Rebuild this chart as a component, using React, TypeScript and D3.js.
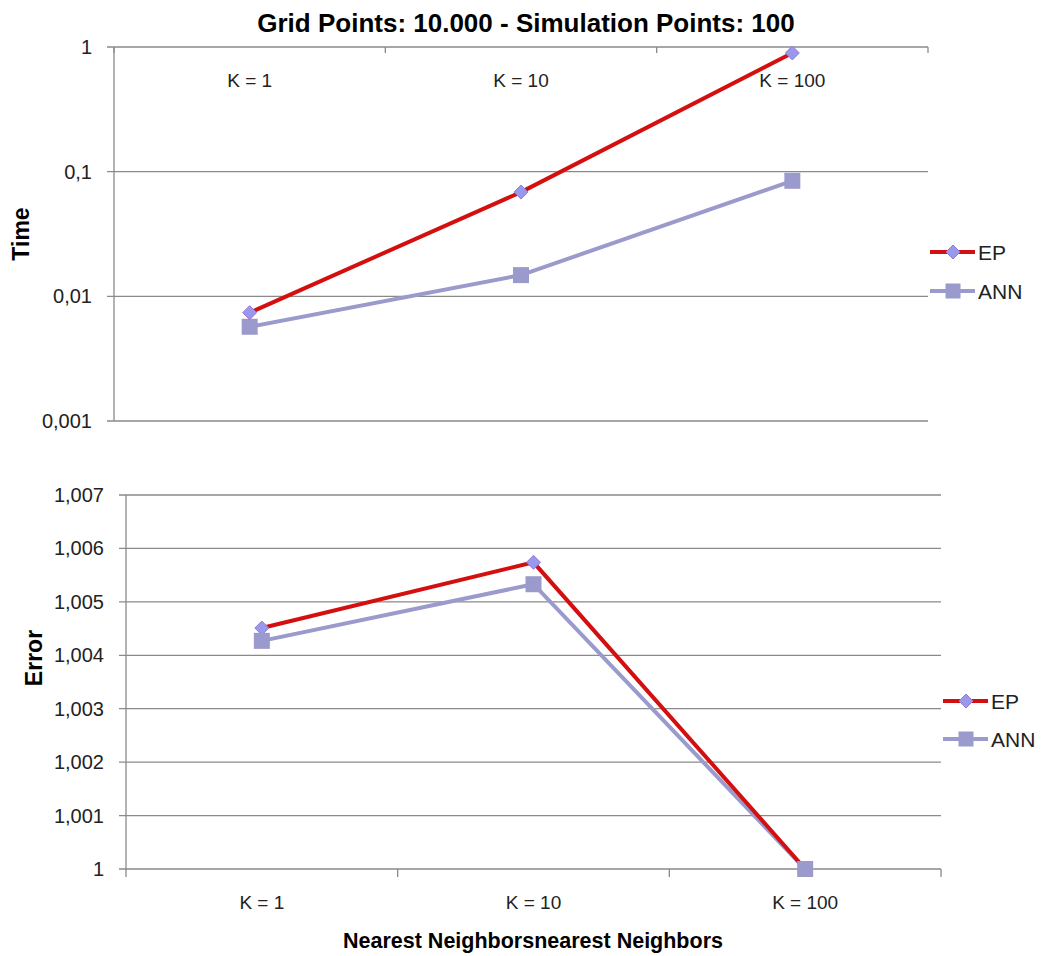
import React from "react";
import * as d3 from "d3";

// Categories (number of nearest neighbours)
const categories = ["K = 1", "K = 10", "K = 100"];

// Time (log scale) per method
const timeEP = [0.0074, 0.0686, 0.895];
const timeANN = [0.0057, 0.0148, 0.0845];

// Error per method
const errorEP = [1.00451, 1.00574, 1.0];
const errorANN = [1.00427, 1.00533, 1.0];

// Axis ticks
const timeTicks = [1, 0.1, 0.01, 0.001];
const timeTickLabels = ["1", "0,1", "0,01", "0,001"];
const errorTicks = [1, 1.001, 1.002, 1.003, 1.004, 1.005, 1.006, 1.007];
const errorTickLabels = ["1", "1,001", "1,002", "1,003", "1,004", "1,005", "1,006", "1,007"];

const seriesNames = ["EP", "ANN"];

const EP_LINE = "#d40f0f";
const ANN_LINE = "#9a9acc";
const MARKER_FILL = "#9898ec";
const GRID = "#8a8a8a";
const TEXT = "#222";
const FONT = "'Liberation Sans', Arial, sans-serif";

function Diamond({ x, y, r = 7 }: { x: number; y: number; r?: number }) {
  return (
    <path
      d={`M${x},${y - r}L${x + r},${y}L${x},${y + r}L${x - r},${y}Z`}
      fill={MARKER_FILL}
      stroke="#9a78cc"
      strokeWidth={1}
    />
  );
}

function Square({ x, y, s = 16 }: { x: number; y: number; s?: number }) {
  return <rect x={x - s / 2} y={y - s / 2} width={s} height={s} fill={ANN_LINE} />;
}

function Legend({ x, y1, y2 }: { x: number; y1: number; y2: number }) {
  return (
    <g fontFamily={FONT} fontSize={21} fill={TEXT}>
      <line x1={x} x2={x + 45} y1={y1} y2={y1} stroke={EP_LINE} strokeWidth={4} />
      <Diamond x={x + 23} y={y1} r={7} />
      <text x={x + 48} y={y1 + 8}>{seriesNames[0]}</text>
      <line x1={x} x2={x + 45} y1={y2} y2={y2} stroke={ANN_LINE} strokeWidth={4} />
      <Square x={x + 23} y={y2} s={15} />
      <text x={x + 48} y={y2 + 8}>{seriesNames[1]}</text>
    </g>
  );
}

export default function App() {
  // ---- Top panel: time on a log axis, category axis along the top edge
  const xTop = d3.scaleBand<string>().domain(categories).range([114, 928]);
  const yTop = d3.scaleLog().domain([0.001, 1]).range([421, 47]);
  const cxTop = (c: string) => (xTop(c) as number) + xTop.bandwidth() / 2;

  const lineTop = (vals: number[]) =>
    d3
      .line<number>()
      .x((_, i) => cxTop(categories[i]))
      .y((v) => yTop(v))(vals) as string;

  // ---- Bottom panel: error on a linear axis
  const xBot = d3.scaleBand<string>().domain(categories).range([126, 941]);
  const yBot = d3.scaleLinear().domain([1, 1.007]).range([869, 495]);
  const cxBot = (c: string) => (xBot(c) as number) + xBot.bandwidth() / 2;

  const lineBot = (vals: number[]) =>
    d3
      .line<number>()
      .x((_, i) => cxBot(categories[i]))
      .y((v) => yBot(v))(vals) as string;

  const topBounds = [...categories.map((c) => xTop(c) as number), 928];
  const botBounds = [...categories.map((c) => xBot(c) as number), 941];

  return (
    <div style={{ position: "absolute", left: 0, top: 0 }}>
      <svg width={1042} height={956} style={{ display: "block", background: "#fff" }}>
        {/* Title */}
        <text
          x={526}
          y={32}
          textAnchor="middle"
          fontFamily={FONT}
          fontWeight="bold"
          fontSize={26}
          fill="#000"
        >
          Grid Points: 10.000 - Simulation Points: 100
        </text>

        {/* ===== Top panel ===== */}
        <g>
          {timeTicks.map((t, i) => (
            <g key={"tg" + i}>
              <line
                x1={107}
                x2={928}
                y1={yTop(t)}
                y2={yTop(t)}
                stroke={GRID}
                strokeWidth={1.3}
              />
              <text
                x={92}
                y={yTop(t) + 7}
                textAnchor="end"
                fontFamily={FONT}
                fontSize={20}
                fill={TEXT}
              >
                {timeTickLabels[i]}
              </text>
            </g>
          ))}
          <line x1={114} x2={114} y1={47} y2={421} stroke={GRID} strokeWidth={1.3} />
          {topBounds.map((b, i) => (
            <line key={"tt" + i} x1={b} x2={b} y1={47} y2={53} stroke={GRID} strokeWidth={1.3} />
          ))}
          {categories.map((c) => (
            <text
              key={"tc" + c}
              x={cxTop(c)}
              y={87}
              textAnchor="middle"
              fontFamily={FONT}
              fontSize={19}
              fill={TEXT}
            >
              {c}
            </text>
          ))}
          <path d={lineTop(timeANN)} fill="none" stroke={ANN_LINE} strokeWidth={4} />
          <path d={lineTop(timeEP)} fill="none" stroke={EP_LINE} strokeWidth={4} />
          {timeANN.map((v, i) => (
            <Square key={"ta" + i} x={cxTop(categories[i])} y={yTop(v)} s={16} />
          ))}
          {timeEP.map((v, i) => (
            <Diamond key={"te" + i} x={cxTop(categories[i])} y={yTop(v)} r={7} />
          ))}
          <text
            transform="translate(29,234) rotate(-90)"
            textAnchor="middle"
            fontFamily={FONT}
            fontWeight="bold"
            fontSize={23}
            fill="#000"
          >
            Time
          </text>
          <Legend x={930} y1={252} y2={291} />
        </g>

        {/* ===== Bottom panel ===== */}
        <g>
          {errorTicks.map((t, i) => (
            <g key={"bg" + i}>
              <line
                x1={119}
                x2={941}
                y1={yBot(t)}
                y2={yBot(t)}
                stroke={GRID}
                strokeWidth={1.3}
              />
              <text
                x={104}
                y={yBot(t) + 7}
                textAnchor="end"
                fontFamily={FONT}
                fontSize={20}
                fill={TEXT}
              >
                {errorTickLabels[i]}
              </text>
            </g>
          ))}
          <line x1={126} x2={126} y1={495} y2={869} stroke={GRID} strokeWidth={1.3} />
          {botBounds.map((b, i) => (
            <line key={"bt" + i} x1={b} x2={b} y1={869} y2={877} stroke={GRID} strokeWidth={1.3} />
          ))}
          {categories.map((c) => (
            <text
              key={"bc" + c}
              x={cxBot(c)}
              y={909}
              textAnchor="middle"
              fontFamily={FONT}
              fontSize={19}
              fill={TEXT}
            >
              {c}
            </text>
          ))}
          <path d={lineBot(errorANN)} fill="none" stroke={ANN_LINE} strokeWidth={4} />
          <path d={lineBot(errorEP)} fill="none" stroke={EP_LINE} strokeWidth={4} />
          {errorEP.map((v, i) => (
            <Diamond key={"be" + i} x={cxBot(categories[i])} y={yBot(v)} r={7} />
          ))}
          {errorANN.map((v, i) => (
            <Square key={"ba" + i} x={cxBot(categories[i])} y={yBot(v)} s={16} />
          ))}
          <text
            transform="translate(42,658) rotate(-90)"
            textAnchor="middle"
            fontFamily={FONT}
            fontWeight="bold"
            fontSize={23}
            fill="#000"
          >
            Error
          </text>
          <text
            x={533}
            y={948}
            textAnchor="middle"
            fontFamily={FONT}
            fontWeight="bold"
            fontSize={21.5}
            fill="#000"
          >
            Nearest Neighborsnearest Neighbors
          </text>
          <Legend x={943} y1={701} y2={739} />
        </g>
      </svg>
    </div>
  );
}
